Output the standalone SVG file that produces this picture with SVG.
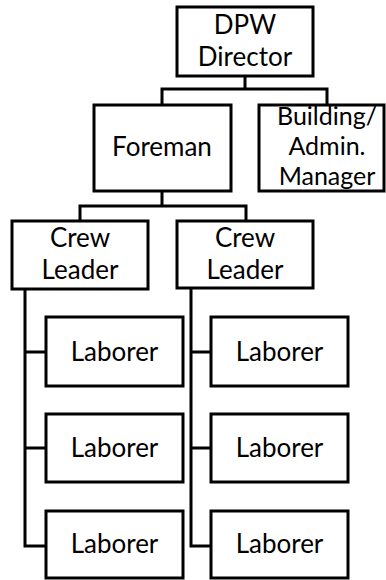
<svg xmlns="http://www.w3.org/2000/svg" width="386" height="580" viewBox="0 0 386 580">
<style>
.box{fill:#fff;stroke:#000;stroke-width:3}
.t{font-family:Lato,"Open Sans","Liberation Sans",sans-serif;font-size:26px;fill:#000;text-anchor:middle}
.s{font-size:25px}
.c{fill:none;stroke:#000;stroke-width:3}
</style>
<rect width="386" height="580" fill="#fff"/>
<g id="connectors">
<path class="c" d="M245 76V89M162 105V89H327V105"/>
<path class="c" d="M162 191V206M80 221V206H246V221"/>
<path class="c" d="M25 289V546H46M25 352H46M25 448H46"/>
<path class="c" d="M191 288V546H211M191 352H211M191 448H211"/>
</g>
<g id="director"><rect class="box" x="177" y="7" width="136" height="69"/><text class="t" x="245" y="34">DPW</text><text class="t" x="245" y="66">Director</text></g>
<g id="foreman"><rect class="box" x="94" y="105" width="137" height="86"/><text class="t" x="162" y="156">Foreman</text></g>
<g id="building"><rect class="box" x="259" y="105" width="125" height="86"/><text class="t s" x="327" y="125">Building/</text><text class="t s" x="327" y="155">Admin.</text><text class="t s" x="327" y="185">Manager</text></g>
<g id="crew1"><rect class="box" x="12" y="221" width="136" height="68"/><text class="t" x="80" y="247">Crew</text><text class="t" x="80" y="279">Leader</text></g>
<g id="crew2"><rect class="box" x="177" y="221" width="136" height="67"/><text class="t" x="245" y="247">Crew</text><text class="t" x="245" y="279">Leader</text></g>
<g id="laborer1"><rect class="box" x="46" y="317" width="137" height="69"/><text class="t" x="114.5" y="361">Laborer</text></g>
<g id="laborer2"><rect class="box" x="46" y="414" width="137" height="68"/><text class="t" x="114.5" y="457">Laborer</text></g>
<g id="laborer3"><rect class="box" x="46" y="511" width="137" height="67"/><text class="t" x="114.5" y="553">Laborer</text></g>
<g id="laborer4"><rect class="box" x="211" y="317" width="137" height="69"/><text class="t" x="279.5" y="361">Laborer</text></g>
<g id="laborer5"><rect class="box" x="211" y="414" width="137" height="68"/><text class="t" x="279.5" y="457">Laborer</text></g>
<g id="laborer6"><rect class="box" x="211" y="511" width="137" height="67"/><text class="t" x="279.5" y="553">Laborer</text></g>
</svg>
